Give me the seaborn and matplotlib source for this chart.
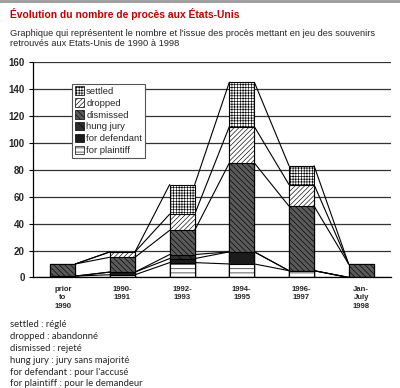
import numpy as np
import matplotlib
matplotlib.use("Agg")
import matplotlib.pyplot as plt
from matplotlib.patches import Patch
from matplotlib.lines import Line2D
import seaborn as sns

# data
periods = ["prior\nto\n1990", "1990-\n1991", "1992-\n1993", "1994-\n1995", "1996-\n1997", "Jan-\nJuly\n1998"]
for_plaintiff = [1, 2, 11, 10, 5, 0]
for_defendant = [0, 2, 3, 9, 0, 0]
hung_jury = [0, 0, 3, 0, 0, 0]
dismissed = [9, 11, 18, 66, 48, 10]
dropped = [0, 4, 12, 27, 16, 0]
settled = [0, 0, 22, 33, 14, 0]

layers = ["for plaintiff", "for defendant", "hung jury", "dismissed", "dropped", "settled"]
values = [for_plaintiff, for_defendant, hung_jury, dismissed, dropped, settled]
styles = {
    "settled": ("white", "++++++"),
    "dropped": ("white", "///////"),
    "dismissed": ("#5a5a5a", "\\\\\\\\\\\\"),
    "hung jury": ("#2e2e2e", "\\\\\\"),
    "for defendant": ("#1c1c1c", ""),
    "for plaintiff": ("white", "----"),
}

notes = ["settled : réglé", "dropped : abandonné", "dismissed : rejeté",
         "hung jury : jury sans majorité", "for defendant : pour l'accusé",
         "for plaintiff : pour le demandeur"]

sns.set_style("white")
plt.rcParams["font.family"] = ["Liberation Sans", "DejaVu Sans"]
plt.rcParams["hatch.linewidth"] = 0.45

fig = plt.figure(figsize=(4, 3.88), dpi=100)
ax = fig.add_axes([0.0825, 0.285, 0.895, 0.555])

cum = np.cumsum(np.array(values), axis=0)
bw = 0.42

# draw from the top layer down so the lower ones cover
for i in range(len(layers) - 1, -1, -1):
    fc, h = styles[layers[i]]
    sns.barplot(x=periods, y=cum[i], color=fc, hatch=h, edgecolor="black",
                linewidth=0.8, width=bw, saturation=1, ax=ax, zorder=3)

# connecting lines between bars
xs = np.arange(len(periods))
for i in range(len(layers)):
    for j in range(len(periods) - 1):
        ax.plot([xs[j] + bw / 2, xs[j + 1] - bw / 2], [cum[i][j], cum[i][j + 1]],
                color="black", lw=0.8, zorder=2)

ax.set_ylim(0, 160)
ax.set_xlim(-0.5, 5.5)
ax.set_yticks(range(0, 161, 20))
ax.yaxis.grid(True, color="#333333", lw=0.9)
ax.set_axisbelow(True)
for s in ["top", "right"]:
    ax.spines[s].set_visible(False)
for s in ["left", "bottom"]:
    ax.spines[s].set_color("black")
    ax.spines[s].set_linewidth(0.9)
ax.set_xticks(xs)
ax.set_xticklabels(periods, fontsize=5.6, fontweight="bold", linespacing=1.3)
ax.set_xticks(np.arange(0.5, 6, 1), minor=True)
ax.tick_params(axis="x", which="major", length=0, pad=6)
ax.tick_params(axis="x", which="minor", length=3, width=0.8, direction="out", color="black")
ax.tick_params(axis="y", length=3, width=0.8, labelsize=7, pad=3, left=True, color="black")
for t in ax.get_yticklabels():
    t.set_fontweight("bold")
ax.set_xlabel("")
ax.set_ylabel("")

handles = [Patch(facecolor=styles[k][0], hatch=styles[k][1], edgecolor="black", linewidth=0.5)
           for k in layers[::-1]]
leg = ax.legend(handles, layers[::-1], loc="upper left", bbox_to_anchor=(0.109, 0.9),
                borderaxespad=0, fancybox=False, edgecolor="#555555", fontsize=6.8,
                handlelength=1.0, handleheight=1.0, labelspacing=0.25,
                handletextpad=0.2, borderpad=0.3, framealpha=1)
leg.get_frame().set_linewidth(0.8)

fig.add_artist(Line2D([0, 1], [0.997, 0.997], color="#9a9a9a", lw=2))
fig.text(0.025, 0.965, "Évolution du nombre de procès aux États-Unis", color="#c00000",
         fontsize=7.4, fontweight="bold", va="center")
fig.text(0.025, 0.9, "Graphique qui représentent le nombre et l'issue des procès mettant en jeu des souvenirs\nretrouvés aux Etats-Unis de 1990 à 1998",
         fontsize=6.7, va="center", linespacing=1.1)

for k, line in enumerate(notes):
    fig.text(0.025, 0.163 - k * 0.0305, line, fontsize=6.8, va="center",
             family=["Lato", "DejaVu Sans"])

fig.savefig("out.png", dpi=100)
